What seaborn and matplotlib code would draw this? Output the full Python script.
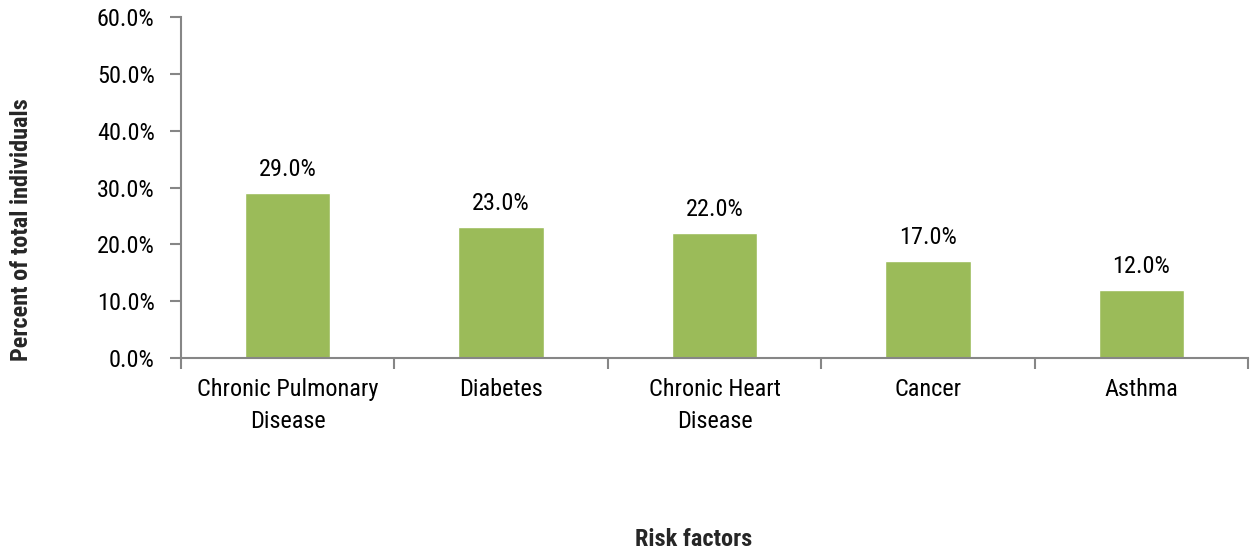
import matplotlib
matplotlib.use("Agg")
import matplotlib.pyplot as plt
from matplotlib import font_manager
from matplotlib.ticker import FuncFormatter, FixedLocator
import seaborn as sns
import pandas as pd

categories = ["Chronic Pulmonary\nDisease", "Diabetes", "Chronic Heart\nDisease", "Cancer", "Asthma"]
percent = [29.0, 23.0, 22.0, 17.0, 12.0]
y_ticks = [0, 10, 20, 30, 40, 50, 60]

sns.set_style("white")
installed = {f.name for f in font_manager.fontManager.ttflist}
family = next((f for f in ["Liberation Sans Narrow", "Arial Narrow", "Roboto Condensed",
                           "Archivo Narrow", "Liberation Sans"] if f in installed), "DejaVu Sans")
plt.rcParams["font.family"] = [family, "DejaVu Sans"]
FS = 17.5

df = pd.DataFrame({"category": categories, "percent": percent})

fig = plt.figure(figsize=(12.53, 5.57), dpi=100)
ax = fig.add_axes([0.1445, 0.358, 0.8515, 0.6106])

bar_color = "#9BBB59"
axis_color = "#868686"
sns.barplot(data=df, x="category", y="percent", color=bar_color, width=0.40,
            saturation=1, ax=ax)

ax.set_ylim(0, 60)
ax.set_xlim(-0.5, len(categories) - 0.5)
ax.yaxis.set_major_locator(FixedLocator(y_ticks))
ax.yaxis.set_major_formatter(FuncFormatter(lambda v, p: f"{v:.1f}%"))

for i, v in enumerate(percent):
    ax.annotate(f"{v:.1f}%", (i, v), xytext=(0, 8.5), textcoords="offset points",
                ha="center", va="bottom", fontsize=FS, color="black")

for side in ["top", "right"]:
    ax.spines[side].set_visible(False)
for side in ["left", "bottom"]:
    ax.spines[side].set_color(axis_color)
    ax.spines[side].set_linewidth(1.5)

# category labels sit between boundary tick marks
ax.set_xticks(range(len(categories)))
ax.set_xticklabels(categories, fontsize=FS, color="black", linespacing=1.45)
ax.tick_params(axis="x", which="major", bottom=True, length=0, pad=15)
ax.set_xticks([i - 0.5 for i in range(len(categories) + 1)], minor=True)
ax.tick_params(axis="x", which="minor", bottom=True, length=8, width=1.5,
               color=axis_color, direction="out")
ax.tick_params(axis="y", left=True, length=8, width=1.5, color=axis_color, direction="out",
               labelsize=FS, labelcolor="black", pad=11)

ax.set_xlabel("Risk factors", fontsize=FS, fontweight="bold")
ax.xaxis.set_label_coords(0.48, -0.5)
ax.set_ylabel("Percent of total individuals", fontsize=FS, fontweight="bold")
ax.yaxis.set_label_coords(-0.139, 0.375)

fig.savefig("out.png", dpi=100, facecolor="white")
